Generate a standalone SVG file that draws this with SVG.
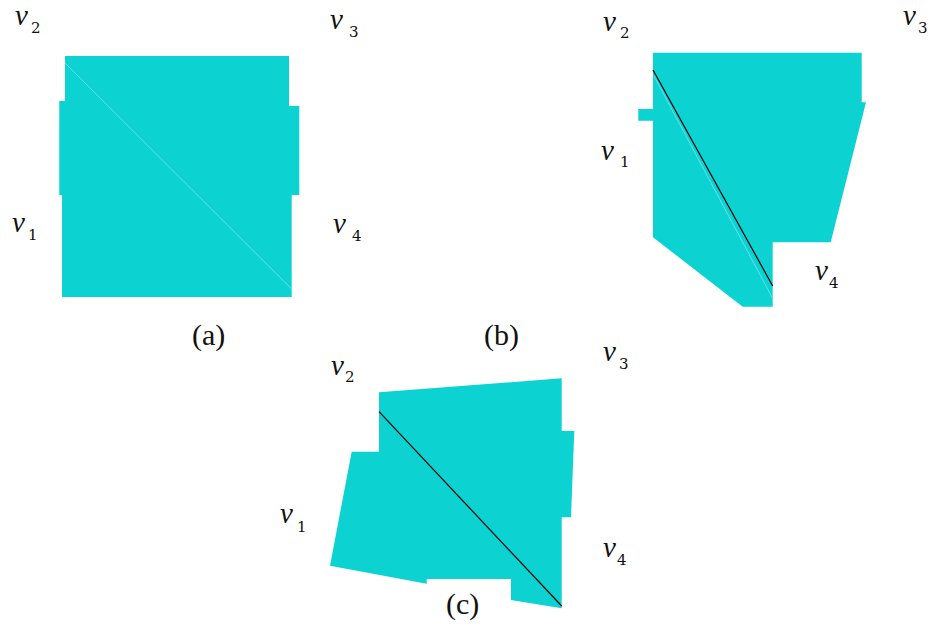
<svg xmlns="http://www.w3.org/2000/svg" width="936" height="628" viewBox="0 0 936 628">
<style>
.sh{fill:#0dd2d2;stroke:none}
.v{font-family:"Liberation Serif",serif;font-style:italic;font-size:29px;fill:#111}
.s{font-family:"DejaVu Serif","Liberation Serif",serif;font-size:15px;fill:#111}
.cap{font-family:"Liberation Serif",serif;font-size:30px;fill:#111}
.lt{stroke:#5fe3ea;stroke-width:1;fill:none}
.dk{stroke:#000;stroke-width:1.2;fill:none}
</style>
<rect width="936" height="628" fill="#fff"/>
<g id="panel-a">
<path class="sh" d="M65,56 H289 V106 H299.3 V195 H291.7 V297 H62 V195 H59.3 V101 H65 Z"/>
<text class="v" x="15" y="25">v</text><text class="s" x="31" y="33">2</text>
<text class="v" x="330" y="29">v</text><text class="s" x="349" y="37">3</text>
<text class="v" x="12" y="232">v</text><text class="s" x="28" y="240">1</text>
<text class="v" x="333" y="233">v</text><text class="s" x="352" y="241">4</text>
<text class="cap" x="192" y="345">(a)</text>
</g>
<g id="panel-b">
<path class="sh" d="M653,52.7 H861.7 V102.3 H866 L830.7,242.3 H772.7 V306.7 H742.7 L653,237.3 V120.7 H638.3 V109 H653 Z"/>
<text class="v" x="603" y="31">v</text><text class="s" x="620" y="38">2</text>
<text class="v" x="903" y="25">v</text><text class="s" x="918" y="33">3</text>
<text class="v" x="601" y="160">v</text><text class="s" x="620" y="167">1</text>
<text class="v" x="815" y="280">v</text><text class="s" x="829" y="288">4</text>
<text class="cap" x="484" y="345">(b)</text>
</g>
<g id="panel-c">
<path class="sh" d="M379,392.3 L561.7,378.3 V431 H574.3 L571,517.3 H561.7 V608.3 L511,600 V579 H426.7 V583.7 L330,565.7 L351.7,451.7 H379 Z"/>
<text class="v" x="331" y="375">v</text><text class="s" x="345" y="382">2</text>
<text class="v" x="603" y="361">v</text><text class="s" x="619" y="369">3</text>
<text class="v" x="280" y="523">v</text><text class="s" x="297" y="532">1</text>
<text class="v" x="603" y="557">v</text><text class="s" x="617" y="565">4</text>
<text class="cap" x="446" y="614">(c)</text>
</g>
<g id="connectors">
<line class="lt" x1="65" y1="63" x2="291.7" y2="289"/>
<line class="lt" x1="654" y1="76" x2="772.7" y2="298.5"/>
<line class="dk" x1="653" y1="70" x2="772.7" y2="286"/>
<line class="dk" x1="379" y1="411.7" x2="561.7" y2="606"/>
</g>
</svg>
